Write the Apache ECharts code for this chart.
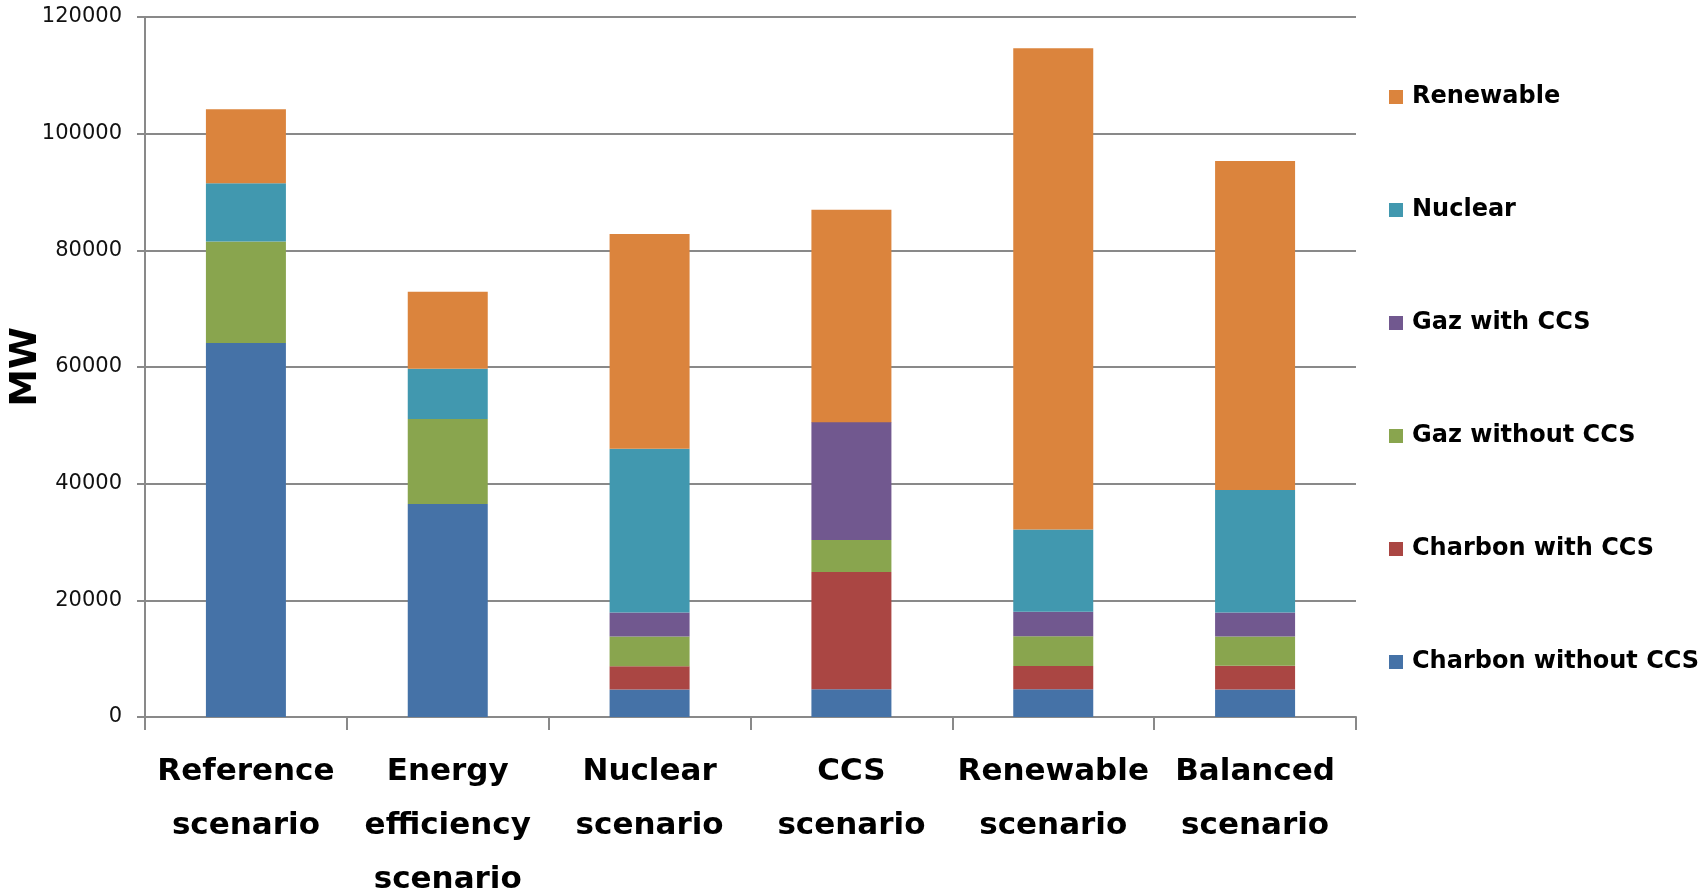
<!DOCTYPE html>
<html>
<head>
<meta charset="utf-8">
<script src="https://cdn.jsdelivr.net/npm/echarts@6/dist/echarts.min.js"></script>
<style>html,body{margin:0;padding:0;background:#fff;}#c{width:1707px;height:896px;}</style>
</head>
<body>
<div id="c"></div>
<script>
const categories = ["Reference scenario", "Energy efficiency scenario", "Nuclear scenario", "CCS scenario", "Renewable scenario", "Balanced scenario"];
const charbonWithoutCCS = [64100, 36500, 4700, 4750, 4750, 4700];
const charbonWithCCS    = [0, 0, 4000, 20100, 4000, 4100];
const gazWithoutCCS     = [17400, 14600, 5100, 5500, 5100, 5000];
const gazWithCCS        = [0, 0, 4100, 20200, 4200, 4100];
const nuclear           = [10000, 8600, 28100, 0, 14100, 21000];
const renewable         = [12700, 13200, 36800, 36400, 82500, 56400];
const yTicks = [0, 20000, 40000, 60000, 80000, 100000, 120000];

const seriesDefs = [
  ["Charbon without CCS", charbonWithoutCCS, "#4572A7"],
  ["Charbon with CCS", charbonWithCCS, "#AA4643"],
  ["Gaz without CCS", gazWithoutCCS, "#89A54E"],
  ["Gaz with CCS", gazWithCCS, "#71588F"],
  ["Nuclear", nuclear, "#4198AF"],
  ["Renewable", renewable, "#DB843D"]
];

const chart = echarts.init(document.getElementById('c'));
const gray = '#898989';
chart.setOption({
  animation: false,
  backgroundColor: '#fff',
  grid: {left: 145, right: 351, top: 17, bottom: 179, containLabel: false, outerBoundsMode: 'none'},
  legend: {
    orient: 'vertical',
    left: 1389, top: 84,
    padding: 0,
    itemWidth: 14, itemHeight: 14,
    itemGap: 87,
    icon: 'rect',
    data: seriesDefs.map(s => s[0]).reverse(),
    textStyle: {fontFamily: 'DejaVu Sans', fontWeight: 'bold', fontSize: 24, color: '#000', lineHeight: 26, padding: [0, 0, 0, 4]}
  },
  xAxis: {
    type: 'category',
    data: categories,
    axisLine: {lineStyle: {color: gray, width: 2}},
    axisTick: {show: true, length: 13, lineStyle: {color: gray, width: 2}},
    axisLabel: {
      interval: 0, margin: 28,
      fontFamily: 'DejaVu Sans', fontWeight: 'bold', fontSize: 31, color: '#000', lineHeight: 54,
      formatter: v => v.split(' ').join('\n')
    }
  },
  yAxis: {
    type: 'value', min: 0, max: 120000, interval: 20000,
    name: 'MW', nameLocation: 'middle', nameRotate: 90, nameGap: 100, nameMoveOverlap: false,
    nameTextStyle: {fontFamily: 'DejaVu Sans', fontWeight: 'bold', fontSize: 38, color: '#000'},
    axisLine: {show: true, lineStyle: {color: gray, width: 2}},
    axisTick: {show: true, length: 8, lineStyle: {color: gray, width: 2}},
    splitLine: {lineStyle: {color: gray, width: 2}},
    axisLabel: {
      margin: 23, fontFamily: 'DejaVu Sans', fontSize: 21, color: '#111',
      formatter: v => yTicks.includes(v) ? String(v) : ''
    }
  },
  series: seriesDefs.map(s => ({
    name: s[0], type: 'bar', stack: 'total', data: s[1], barWidth: 80,
    itemStyle: {color: s[2]}
  }))
});
</script>
</body>
</html>
